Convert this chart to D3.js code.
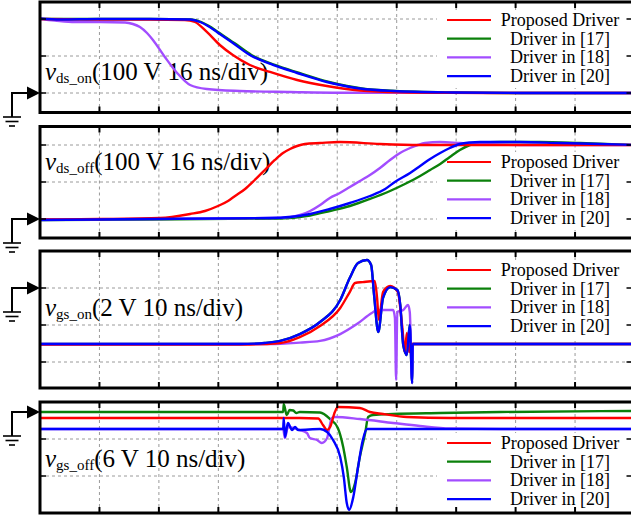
<!DOCTYPE html>
<html>
<head>
<meta charset="utf-8">
<script src="https://cdn.jsdelivr.net/npm/d3@7"></script>
<style>
  body { margin: 0; background: #fff; }
  svg { display: block; }
</style>
</head>
<body>
<script>
// legend entries and colours
var seriesNames = ["Proposed Driver", "Driver in [17]", "Driver in [18]", "Driver in [20]"];
var seriesKeys = ["red", "green", "purple", "blue"];
var seriesColors = {red: "#ff0000", green: "#0b800b", purple: "#a24dff", blue: "#0000ff"};
var drawOrder = ["green", "purple", "red", "blue"];

// panel labels
var labelSubs = ["ds_on", "ds_off", "gs_on", "gs_off"];
var labelScales = ["(100 V 16 ns/div)", "(100 V 16 ns/div)", "(2 V 10 ns/div)", "(6 V 10 ns/div)"];
var voltsPerDiv = [100, 100, 2, 6];
var nsPerDiv = [16, 16, 10, 10];

// waveforms, [time ns, volts] relative to the ground marker
var dsOnRed = [[0,200],[16.1,198.6],[29.6,198.6],[39,197.3],[41.7,191.9],[44.9,164.9],[48.4,129.7],[51.9,102.7],[56.5,75.7],[61.9,56.8],[69.2,35.1],[77.2,18.9],[86.1,6.8],[96.9,1.9],[110.3,0.5],[129.2,0],[160,0]];
var dsOnGreen = [[0,200],[16.1,200],[29.6,200],[40.6,198.6],[43.4,191.9],[45.5,181.1],[47.9,164.9],[52.3,135.1],[56.9,102.7],[63.2,75.7],[69.8,54.1],[77.8,29.7],[82.6,18.9],[86.6,12.2],[95.6,5.4],[111.6,1.4],[129.6,0],[160,0]];
var dsOnPurple = [[0,200],[4,195.9],[9.4,191.9],[16.1,191.9],[22.9,190.5],[25,186.5],[26.9,178.4],[28.8,162.2],[30.4,143.2],[33.6,97.3],[36.9,54.1],[40.4,21.6],[44.9,10.8],[53.8,5.4],[67.3,2.7],[80.7,0.8],[160,0]];
var dsOnBlue = [[0,201.4],[5.4,198.6],[16.1,200],[29.6,200],[40.4,198.6],[43.1,191.9],[45.2,181.1],[47.6,164.9],[51.9,135.1],[56.5,102.7],[62.7,75.7],[69.2,54.1],[77.2,29.7],[82.1,18.9],[86.1,12.2],[95,5.4],[111.2,1.4],[129.2,0],[160,0]];

var dsOffRed = [[0,-1.4],[16.1,0],[32.3,2.7],[40.4,13.5],[44.4,21.6],[47.9,35.1],[50.6,48.6],[52.5,62.2],[55.2,81.1],[57.8,105.4],[60.5,132.4],[63.2,159.5],[65.4,178.4],[67.3,189.2],[69.2,197.3],[71.3,202.7],[75.4,205.4],[80.7,208.1],[91.5,202.7],[102.3,200],[160,200]];
var dsOffGreen = [[0,-2.7],[29.6,-1.4],[64.6,1.4],[72.7,9.5],[78,21.6],[83.4,35.1],[88.8,54.1],[94.2,75.7],[98.2,94.6],[102.3,116.2],[105,132.4],[107.7,148.6],[110.3,167.6],[113,186.5],[115.7,200],[118.4,205.4],[123.8,208.1],[134.6,208.1],[145.3,205.4],[160,200]];
var dsOffPurple = [[0,-1.4],[29.6,0],[61.9,2.7],[67.3,5.4],[70,10.8],[72.7,21.6],[75.4,37.8],[78,56.8],[80.7,70.3],[83.4,86.5],[86.1,102.7],[88.8,118.9],[91.5,137.8],[94.2,159.5],[96.9,178.4],[99.6,191.9],[101.7,200],[103.6,205.4],[107.7,208.1],[113,205.4],[118.4,202.7],[129.2,200],[160,200]];
var dsOffBlue = [[0,-2.7],[29.6,0],[61.9,2.7],[67.3,5.4],[72.7,13.5],[78,27],[83.4,43.2],[88.8,62.2],[92.9,81.1],[95.5,100],[99.6,124.3],[102.3,143.2],[105,162.2],[107.7,178.4],[110.3,191.9],[113,202.7],[115.7,206.8],[118.4,208.1],[129.2,208.1],[139.9,205.4],[150.7,202.7],[160,200]];

var gsOnRed = [[0,-3.05],[35.3,-3.05],[40.4,-2.97],[43.7,-2.65],[47.1,-2.05],[50.5,-1.08],[52.1,-0.22],[53,0.27],[54.3,0.32],[56.3,0.38],[56.7,-0.54],[57,-1.73],[57.7,-0.22],[58.9,0.11],[60.2,-0.22],[60.9,-2],[61.4,-3.46],[61.7,-2.43],[62.1,-3.46],[62.4,-3.03],[100,-3.03]];
var gsOnPurple = [[0,-3.03],[38.7,-3.03],[43.7,-2.95],[47.1,-2.86],[50.5,-2.49],[53.3,-1.95],[55.8,-1.35],[56.7,-1.19],[59.4,-1.19],[59.7,-1.62],[59.9,-4.97],[60.1,-1.3],[61.1,-1.19],[61.9,-0.92],[62.2,-1.3],[62.6,-5.14],[62.7,-3.03],[100,-3.03]];
var gsOnBlue = [[0,-3.03],[33.6,-3.03],[37.8,-2.97],[40.4,-2.86],[43.7,-2.49],[47.1,-1.84],[50.5,-0.65],[52.1,0.54],[53.5,1.35],[55,1.51],[55.7,1.24],[56.2,-0.38],[56.9,-2.38],[57.7,-0.54],[58.9,0.05],[60.1,-0.11],[60.6,-0.92],[61.1,-3.08],[61.7,-3.62],[62.2,-2],[62.6,-5.14],[62.7,-3.03],[100,-3.03]];
var gsOnGreen = gsOnBlue; // hidden under the blue trace in the picture

var gsOffRed = [[0,-0.97],[43.7,-0.97],[46.8,-1.05],[47.6,-2.11],[48.3,-2.92],[48.8,-2.43],[49.6,0],[50.1,0.81],[53.8,0.65],[55.5,0],[57.7,-0.32],[61.7,-0.81],[69,-0.97],[100,-0.97]];
var gsOffGreen = [[0,0],[40.9,0],[41,1.3],[41.5,-0.49],[42,0.32],[42.6,0.24],[43.1,-0.16],[43.7,0],[47.1,-0.08],[48.8,-1.14],[50.1,-2.59],[51,-5.68],[51.6,-8.92],[52.3,-12.97],[53,-11.51],[53.8,-7.3],[54.7,-3.41],[55.2,-0.81],[56,-0.49],[59.4,-0.32],[67.3,-0.16],[77.4,0],[100,0.16]];
var gsOffPurple = [[0,-2.76],[40.9,-2.76],[41.2,-4.22],[41.7,-2.43],[42.6,-2.59],[43.7,-2.92],[44.9,-3.41],[45.4,-4.22],[46.6,-4.54],[47.4,-5.03],[48.3,-4.22],[48.6,-2.92],[49.1,-0.97],[49.6,-0.81],[53.8,-1.14],[59.4,-1.78],[63.9,-2.27],[69,-2.68],[77.4,-2.76],[100,-2.76]];
var gsOffBlue = [[0,-2.76],[40.9,-2.76],[41,-0.97],[41.2,-4.05],[41.7,-1.78],[42.4,-2.92],[42.9,-2.43],[43.4,-2.92],[47.1,-2.76],[48.3,-3.24],[49.3,-4.54],[50.5,-7.3],[51.1,-10.54],[51.6,-14.76],[52,-15.89],[52.7,-13.78],[53.5,-8.92],[54.3,-4.54],[55,-2.76],[100,-2.76]];

var panelData = [
  {red: dsOnRed, green: dsOnGreen, purple: dsOnPurple, blue: dsOnBlue},
  {red: dsOffRed, green: dsOffGreen, purple: dsOffPurple, blue: dsOffBlue},
  {red: gsOnRed, green: gsOnGreen, purple: gsOnPurple, blue: gsOnBlue},
  {red: gsOffRed, green: gsOffGreen, purple: gsOffPurple, blue: gsOffBlue}
];

// layout (pixels)
var width = 631, height = 518;
var boxLeft = 40, boxRight = 634.5, divPx = 37;
var panels = [
  {top: 2, bottom: 112.5, zeroY: 93, firstGrid: 19, labelY: 80, legendY: 20},
  {top: 126.5, bottom: 238, zeroY: 219, firstGrid: 145, labelY: 170, legendY: 162},
  {top: 251, bottom: 388, zeroY: 288, firstGrid: 288, labelY: 316, legendY: 270},
  {top: 402, bottom: 513, zeroY: 412, firstGrid: 439, labelY: 467, legendY: 443}
];

var svg = d3.select("body").append("svg")
  .attr("width", width)
  .attr("height", height)
  .style("font-family", "'Liberation Serif', 'Times New Roman', serif");

panels.forEach(function(p, i) {
  var x = d3.scaleLinear().domain([0, nsPerDiv[i] * 10]).range([boxLeft, boxRight]);
  var y = d3.scaleLinear().domain([0, voltsPerDiv[i]]).range([p.zeroY, p.zeroY - divPx]);
  var g = svg.append("g");

  g.append("clipPath").attr("id", "clip" + i)
    .append("rect")
    .attr("x", boxLeft).attr("y", p.top)
    .attr("width", boxRight - boxLeft).attr("height", p.bottom - p.top);

  g.append("rect")
    .attr("x", boxLeft).attr("y", p.top)
    .attr("width", boxRight - boxLeft).attr("height", p.bottom - p.top)
    .attr("fill", "#fff");

  var xTicks = d3.range(1, 10).map(function(k) { return x(k * nsPerDiv[i]); });
  var yGrid = [];
  for (var gy = p.firstGrid; gy < p.bottom - 3; gy += divPx) yGrid.push(gy);

  // dashed grid
  g.selectAll(".vg").data(xTicks).enter().append("line")
    .attr("x1", function(d) { return d; }).attr("x2", function(d) { return d; })
    .attr("y1", p.top).attr("y2", p.bottom)
    .attr("stroke", "#9a9a9a").attr("stroke-width", 1).attr("stroke-dasharray", "3,3");
  g.selectAll(".hg").data(yGrid).enter().append("line")
    .attr("x1", boxLeft).attr("x2", boxRight)
    .attr("y1", function(d) { return d; }).attr("y2", function(d) { return d; })
    .attr("stroke", "#9a9a9a").attr("stroke-width", 1).attr("stroke-dasharray", "3,3");

  // legend background hides the grid
  g.append("rect")
    .attr("x", 437).attr("y", p.legendY - 10)
    .attr("width", boxRight - 437).attr("height", 78)
    .attr("fill", "#fff");

  // panel label
  var lab = g.append("text").attr("x", 45).attr("y", p.labelY)
    .attr("font-size", 25).attr("fill", "#000");
  lab.append("tspan").attr("font-style", "italic").text("v");
  lab.append("tspan").attr("font-size", 15).attr("dy", 3).text(labelSubs[i]);
  lab.append("tspan").attr("dy", -3).text(labelScales[i]);

  // traces
  var line = d3.line()
    .x(function(d) { return x(d[0]); })
    .y(function(d) { return y(d[1]); })
    .curve(d3.curveMonotoneX);
  var tg = g.append("g").attr("clip-path", "url(#clip" + i + ")");
  drawOrder.forEach(function(key) {
    tg.append("path")
      .datum(panelData[i][key])
      .attr("d", line)
      .attr("fill", "none")
      .attr("stroke", seriesColors[key])
      .attr("stroke-width", 2.4)
      .attr("stroke-linejoin", "round");
  });

  // legend
  seriesKeys.forEach(function(key, k) {
    var ly = p.legendY + k * 18.7;
    g.append("line")
      .attr("x1", 447).attr("x2", 491).attr("y1", ly).attr("y2", ly)
      .attr("stroke", seriesColors[key]).attr("stroke-width", 2.2);
    g.append("text")
      .attr("x", 560).attr("y", ly + 6)
      .attr("text-anchor", "middle")
      .attr("font-size", 18)
      .text(seriesNames[k]);
  });

  // frame with inward ticks
  g.append("rect")
    .attr("x", boxLeft).attr("y", p.top)
    .attr("width", boxRight - boxLeft).attr("height", p.bottom - p.top)
    .attr("fill", "none").attr("stroke", "#000").attr("stroke-width", 3);
  xTicks.forEach(function(tx) {
    g.append("line").attr("x1", tx).attr("x2", tx).attr("y1", p.top).attr("y2", p.top + 6)
      .attr("stroke", "#000").attr("stroke-width", 2);
    g.append("line").attr("x1", tx).attr("x2", tx).attr("y1", p.bottom).attr("y2", p.bottom - 6)
      .attr("stroke", "#000").attr("stroke-width", 2);
  });
  yGrid.forEach(function(ty) {
    g.append("line").attr("x1", boxLeft).attr("x2", boxLeft + 6).attr("y1", ty).attr("y2", ty)
      .attr("stroke", "#000").attr("stroke-width", 1.5);
    g.append("line").attr("x1", boxRight).attr("x2", boxRight - 8).attr("y1", ty).attr("y2", ty)
      .attr("stroke", "#000").attr("stroke-width", 1.5);
  });

  // ground reference marker
  var zy = y(0);
  g.append("path")
    .attr("d", "M12," + (zy + 24) + "V" + zy + "H29")
    .attr("fill", "none").attr("stroke", "#000").attr("stroke-width", 2);
  g.append("path")
    .attr("d", "M27," + (zy - 6.5) + "L40," + zy + "L27," + (zy + 6.5) + "Z")
    .attr("fill", "#000");
  [[18, 24], [13, 28.5], [6, 33]].forEach(function(gl) {
    g.append("line")
      .attr("x1", 12 - gl[0] / 2).attr("x2", 12 + gl[0] / 2)
      .attr("y1", zy + gl[1]).attr("y2", zy + gl[1])
      .attr("stroke", "#000").attr("stroke-width", 1.6);
  });
});
</script>
</body>
</html>
